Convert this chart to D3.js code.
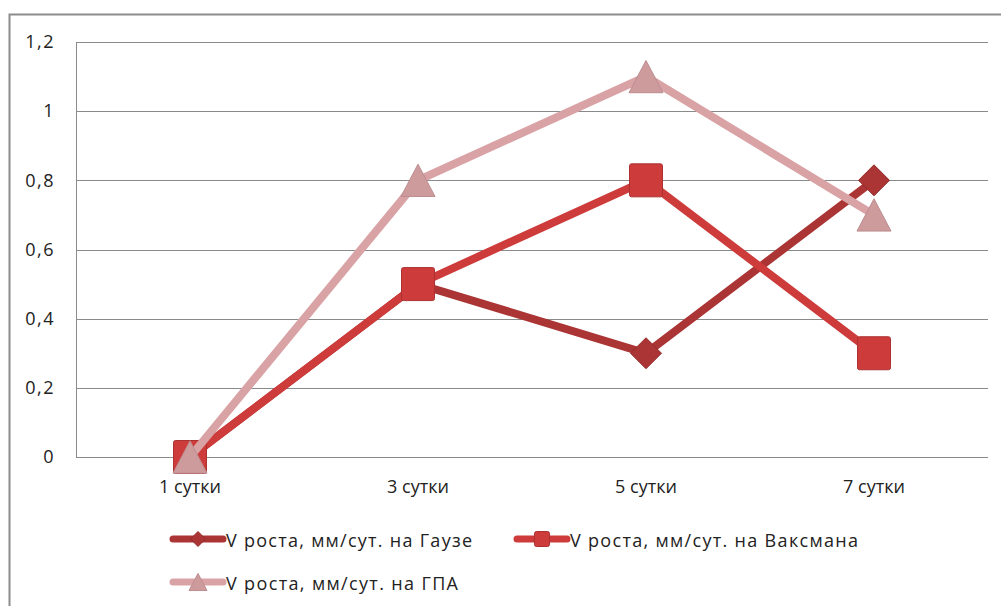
<!DOCTYPE html>
<html>
<head>
<meta charset="utf-8">
<script src="https://cdn.jsdelivr.net/npm/d3@7"></script>
<style>
  html, body { margin: 0; padding: 0; background: #fff; }
  svg { display: block; }
  text { font-family: "Open Sans", "Noto Sans", sans-serif; fill: #222; }
</style>
</head>
<body>
<svg id="chart" width="1001" height="606"></svg>
<script>
// Growth rate data, mm per day, by medium
const categories = ["1 сутки", "3 сутки", "5 сутки", "7 сутки"];
const gauzeValues = [0, 0.5, 0.3, 0.8];
const waksmanValues = [0, 0.5, 0.8, 0.3];
const gpaValues = [0, 0.8, 1.1, 0.7];
const yTicks = [0, 0.2, 0.4, 0.6, 0.8, 1, 1.2];
const seriesNames = [
  "V роста, мм/сут. на Гаузе",
  "V роста, мм/сут. на Ваксмана",
  "V роста, мм/сут. на ГПА"
];

const series = [
  { name: seriesNames[0], values: gauzeValues, color: "#ab3434", marker: "diamond" },
  { name: seriesNames[1], values: waksmanValues, color: "#cd3b3b", marker: "square" },
  { name: seriesNames[2], values: gpaValues, color: "#d9a3a6", marker: "triangle" }
];

const svg = d3.select("#chart");
const plot = { left: 76, right: 988, top: 42, bottom: 457 };

// outer chart frame
svg.append("path")
  .attr("d", "M9.5,606 L9.5,14.5 L1001,14.5")
  .attr("fill", "none").attr("stroke", "#8c8c8c").attr("stroke-width", 2);

const x = d3.scaleBand().domain(categories).range([plot.left, plot.right]);
const y = d3.scaleLinear().domain([0, 1.2]).range([plot.bottom, plot.top]);

// horizontal gridlines
svg.append("g").selectAll("line").data(yTicks).join("line")
  .attr("x1", plot.left).attr("x2", plot.right)
  .attr("y1", d => Math.round(y(d)) + 0.5).attr("y2", d => Math.round(y(d)) + 0.5)
  .attr("stroke", "#8a8a8a").attr("stroke-width", 1);

// left plot border
svg.append("line")
  .attr("x1", plot.left + 0.5).attr("x2", plot.left + 0.5)
  .attr("y1", plot.top).attr("y2", plot.bottom)
  .attr("stroke", "#8a8a8a");

// y axis labels
const fmt = d => String(d).replace(".", ",");
const yAxis = d3.axisLeft(y).tickValues(yTicks).tickFormat(fmt).tickSize(0).tickPadding(0);
const yg = svg.append("g").attr("transform", `translate(${plot.left - 21},0)`).call(yAxis);
yg.select(".domain").remove();
yg.selectAll("text").attr("font-size", 18).attr("fill", "#222")
  .attr("letter-spacing", 1.5)
  .style("font-family", "'Open Sans', sans-serif");

// x axis labels
const xAxis = d3.axisBottom(x).tickSize(0).tickPadding(0);
const xg = svg.append("g").attr("transform", `translate(0,${plot.bottom + 23})`).call(xAxis);
xg.select(".domain").remove();
xg.selectAll("text").attr("font-size", 18).attr("fill", "#222")
  .style("font-family", "'Open Sans', sans-serif");

const cx = c => x(c) + x.bandwidth() / 2;

function drawMarker(g, type, px, py, color, s) {
  if (type === "diamond") {
    const r = s / 2;
    g.append("path")
      .attr("d", `M${px},${py - r} L${px + r},${py} L${px},${py + r} L${px - r},${py} Z`)
      .attr("fill", color).attr("stroke", d3.color(color).darker(0.4)).attr("stroke-width", 1);
  } else if (type === "square") {
    g.append("rect")
      .attr("x", px - s / 2).attr("y", py - s / 2).attr("width", s).attr("height", s)
      .attr("rx", 2)
      .attr("fill", color).attr("stroke", d3.color(color).darker(0.5)).attr("stroke-width", 1);
  } else {
    const h = s * 0.95;
    g.append("path")
      .attr("d", `M${px},${py - h * 0.5} L${px + s / 2},${py + h * 0.5} L${px - s / 2},${py + h * 0.5} Z`)
      .attr("fill", d3.color(color).darker(0.15)).attr("stroke", d3.color(color).darker(0.4)).attr("stroke-width", 1);
  }
}

const markerSize = { diamond: 31, square: 33, triangle: 34 };

const line = d3.line().x((d, i) => cx(categories[i])).y(d => y(d));

series.forEach(s => {
  const g = svg.append("g");
  g.append("path").datum(s.values)
    .attr("d", line)
    .attr("fill", "none").attr("stroke", s.color)
    .attr("stroke-width", 8).attr("stroke-linejoin", "miter");
  s.values.forEach((v, i) => drawMarker(g, s.marker, cx(categories[i]), y(v), s.color, markerSize[s.marker]));
});

// legend
const legendItems = [
  { s: series[0], lx: 170, ly: 539, w: 246 },
  { s: series[1], lx: 514, ly: 539, w: 288 },
  { s: series[2], lx: 170, ly: 582, w: 232 }
];
legendItems.forEach(({ s, lx, ly, w }) => {
  const g = svg.append("g");
  g.append("line").attr("x1", lx + 3).attr("x2", lx + 53).attr("y1", ly).attr("y2", ly)
    .attr("stroke", s.color).attr("stroke-width", 7).attr("stroke-linecap", "round");
  drawMarker(g, s.marker, lx + 28, ly, s.color, s.marker === "triangle" ? 18 : 15);
  g.append("text").attr("x", lx + 56).attr("y", ly + 2).attr("dy", "0.35em")
    .attr("font-size", 18)
    .attr("textLength", w).attr("lengthAdjust", "spacing")
    .text(s.name);
});
</script>
</body>
</html>
